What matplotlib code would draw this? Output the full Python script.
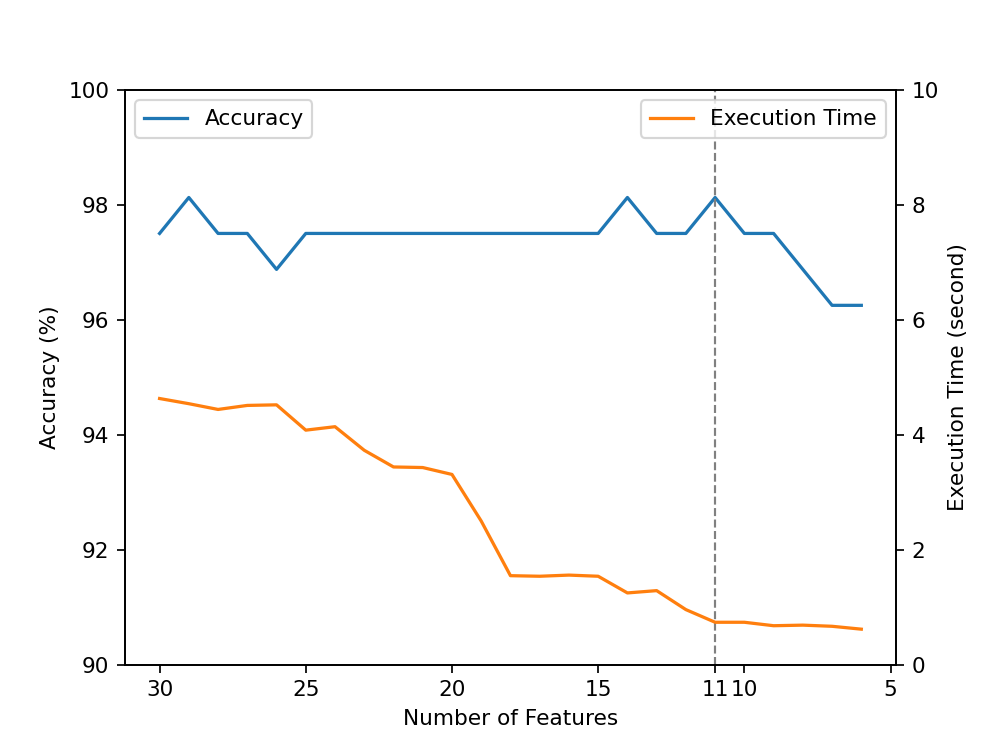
import matplotlib
matplotlib.use("Agg")
import matplotlib.pyplot as plt

features = [30, 29, 28, 27, 26, 25, 24, 23, 22, 21, 20, 19, 18, 17, 16, 15, 14, 13, 12, 11, 10, 9, 8, 7, 6]
accuracy = [97.5, 98.125, 97.5, 97.5, 96.875, 97.5, 97.5, 97.5, 97.5, 97.5, 97.5, 97.5, 97.5, 97.5, 97.5, 97.5,
            98.125, 97.5, 97.5, 98.125, 97.5, 97.5, 96.875, 96.25, 96.25]
exec_time = [4.63, 4.54, 4.44, 4.51, 4.52, 4.08, 4.14, 3.73, 3.44, 3.43, 3.31, 2.50, 1.55, 1.54, 1.56, 1.54,
             1.25, 1.29, 0.96, 0.74, 0.74, 0.68, 0.69, 0.67, 0.62]
xticks = [30, 25, 20, 15, 11, 10, 5]
best_k = 11

fig, ax1 = plt.subplots(figsize=(6.4, 4.8), dpi=155.625)
ax1.plot(features, accuracy, color='#1f77b4', label='Accuracy')
ax1.set_ylim(90, 100)
ax1.set_ylabel('Accuracy (%)')
ax1.set_xlabel('Number of Features')
ax1.invert_xaxis()
ax1.set_xticks(xticks)
ax1.axvline(best_k, color='gray', linestyle='--', linewidth=1)
ax1.legend(loc='upper left')

ax2 = ax1.twinx()
ax2.plot(features, exec_time, color='#ff7f0e', label='Execution Time')
ax2.set_ylim(0, 10)
ax2.set_ylabel('Execution Time (second)')
ax2.legend(loc='upper right')

fig.savefig('out.png')
